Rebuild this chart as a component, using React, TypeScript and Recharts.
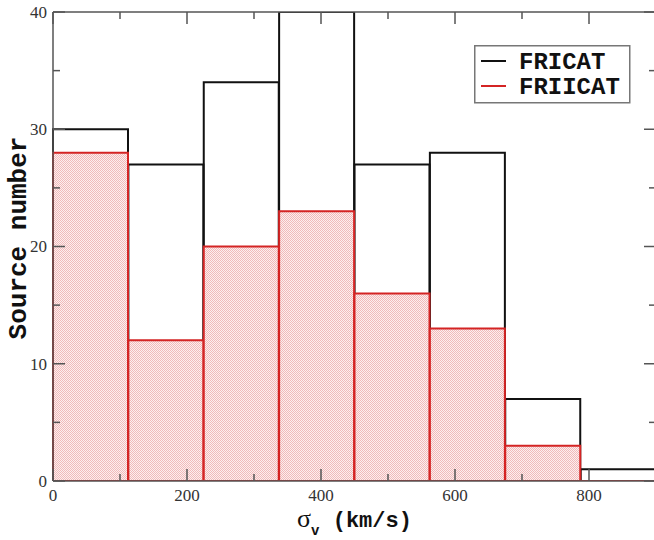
import { ComposedChart, Bar, XAxis, YAxis, Legend } from 'recharts';

// histogram bins of velocity dispersion (km/s), 8 bins of 112.5 km/s
const binStarts = [0, 112.5, 225, 337.5, 450, 562.5, 675, 787.5];
const binWidth = 112.5;
const fricatCounts = [30, 27, 34, 40, 27, 28, 7, 1];
const friicatCounts = [28, 12, 20, 23, 16, 13, 3, 0];

const xTicks = [0, 100, 200, 300, 400, 500, 600, 700, 800, 900];
const xLabelled = [0, 200, 400, 600, 800];
const yTicks = [0, 5, 10, 15, 20, 25, 30, 35, 40];
const yLabelled = [0, 10, 20, 30, 40];

const series = [
  { key: 'fricat', name: 'FRICAT', color: '#111111' },
  { key: 'friicat', name: 'FRIICAT', color: '#d42424' },
];

const data = binStarts.map((start, i) => ({
  bin: `${start}-${start + binWidth}`,
  center: start + binWidth / 2,
  fricat: fricatCounts[i],
  friicat: friicatCounts[i],
}));

const axisColor = '#555555';
const tickFont = 'Liberation Serif, serif';
const monoFont = 'Liberation Mono, monospace';

// outlined histogram box; drawn as a path so empty bins still show their base line
const HistBox = (props: any) => {
  const { x, y, width, height, stroke, fill } = props;
  const b = y + height;
  return (
    <path
      d={`M${x},${b} L${x},${y} L${x + width},${y} L${x + width},${b} Z`}
      stroke={stroke}
      strokeWidth={2}
      fill={fill}
    />
  );
};

const BottomTick = (props: any) => {
  const { x, y, payload } = props;
  const major = payload.value % 200 === 0;
  return (
    <g>
      <line x1={x} x2={x} y1={y} y2={y - (major ? 12 : 7)} stroke={axisColor} strokeWidth={1.5} />
      {xLabelled.includes(payload.value) && (
        <text x={x} y={y + 20} textAnchor="middle" fontFamily={tickFont} fontSize={17} fill="#333">
          {payload.value}
        </text>
      )}
    </g>
  );
};

const TopTick = (props: any) => {
  const { x, y, payload } = props;
  const major = payload.value % 200 === 0;
  return <line x1={x} x2={x} y1={y} y2={y + (major ? 12 : 7)} stroke={axisColor} strokeWidth={1.5} />;
};

const LeftTick = (props: any) => {
  const { x, y, payload } = props;
  const major = payload.value % 10 === 0;
  return (
    <g>
      <line x1={x} x2={x + (major ? 12 : 7)} y1={y} y2={y} stroke={axisColor} strokeWidth={1.5} />
      {yLabelled.includes(payload.value) && (
        <text x={x - 6} y={y} dy="0.35em" textAnchor="end" fontFamily={tickFont} fontSize={17} fill="#333">
          {payload.value}
        </text>
      )}
    </g>
  );
};

const RightTick = (props: any) => {
  const { x, y, payload } = props;
  const major = payload.value % 10 === 0;
  return <line x1={x} x2={x - (major ? 12 : 7)} y1={y} y2={y} stroke={axisColor} strokeWidth={1.5} />;
};

const XTitle = (props: any) => {
  const { viewBox } = props;
  const cx = viewBox.x + viewBox.width / 2;
  return (
    <text x={cx} y={527} textAnchor="middle" fill="#111">
      <tspan fontFamily={tickFont} fontSize={26}>σ</tspan>
      <tspan fontFamily={monoFont} fontWeight="bold" fontSize={14} dy={8}>v</tspan>
      <tspan fontFamily={monoFont} fontWeight="bold" fontSize={22} dy={-8}>{'  (km/s)'}</tspan>
    </text>
  );
};

const YTitle = () => (
  <text
    x={19}
    y={238}
    transform="rotate(-90 19 238)"
    textAnchor="middle"
    dominantBaseline="central"
    fontFamily={monoFont}
    fontWeight="bold"
    fontSize={26}
    fill="#111"
  >
    Source number
  </text>
);

const LegendBox = () => (
  <svg width={157} height={59} style={{ display: 'block' }}>
    <rect x={0.75} y={0.75} width={155} height={57} fill="#fff" stroke="#777" strokeWidth={1.5} />
    {series.map((s, i) => (
      <g key={s.key}>
        <line x1={7} x2={32} y1={16 + i * 25} y2={16 + i * 25} stroke={s.color} strokeWidth={2} />
        <text
          x={45}
          y={16 + i * 25}
          dy="0.35em"
          fontFamily={monoFont}
          fontWeight="bold"
          fontSize={24}
          fill="#111"
        >
          {s.name}
        </text>
      </g>
    ))}
  </svg>
);

export default function App() {
  return (
    <div style={{ position: 'absolute', left: 0, top: 0, width: 654, height: 540, overflow: 'hidden', background: '#fff' }}>
      <ComposedChart
        width={680}
        height={540}
        data={data}
        margin={{ top: 0, right: 0, bottom: 0, left: 0 }}
        barCategoryGap={0}
        barGap={0}
      >
        <defs>
          <pattern id="redDots" width={2} height={2} patternUnits="userSpaceOnUse">
            <rect width={2} height={2} fill="#fdeeee" />
            <rect width={1} height={1} fill="#f0baba" />
            <rect x={1} y={1} width={1} height={1} fill="#f0baba" />
          </pattern>
        </defs>
        <XAxis xAxisId="binsA" dataKey="bin" type="category" height={0} hide />
        <XAxis xAxisId="binsB" dataKey="bin" type="category" height={0} hide />
        <Bar
          xAxisId="binsA"
          dataKey="fricat"
          name="FRICAT"
          stroke={series[0].color}
          fill="none"
          shape={<HistBox />}
          isAnimationActive={false}
        />
        <Bar
          xAxisId="binsB"
          dataKey="friicat"
          name="FRIICAT"
          stroke={series[1].color}
          fill="url(#redDots)"
          shape={<HistBox />}
          isAnimationActive={false}
        />
        <XAxis
          xAxisId="sigma"
          dataKey="center"
          type="number"
          domain={[0, 900]}
          allowDataOverflow
          ticks={xTicks}
          interval={0}
          height={59}
          tickSize={0}
          tickMargin={0}
          tickLine={false}
          tick={<BottomTick />}
          axisLine={{ stroke: axisColor, strokeWidth: 1.5 }}
          label={{ content: <XTitle /> }}
        />
        <XAxis
          xAxisId="top"
          dataKey="center"
          orientation="top"
          type="number"
          domain={[0, 900]}
          allowDataOverflow
          ticks={xTicks}
          interval={0}
          height={12}
          tickSize={0}
          tickMargin={0}
          tickLine={false}
          tick={<TopTick />}
          axisLine={{ stroke: axisColor, strokeWidth: 1.5 }}
        />
        <YAxis
          type="number"
          domain={[0, 40]}
          allowDataOverflow
          ticks={yTicks}
          interval={0}
          width={53}
          tickSize={0}
          tickMargin={0}
          tickLine={false}
          tick={<LeftTick />}
          axisLine={{ stroke: axisColor, strokeWidth: 1.5 }}
          label={{ content: <YTitle /> }}
        />
        <YAxis
          yAxisId="right"
          dataKey="fricat"
          orientation="right"
          type="number"
          domain={[0, 40]}
          allowDataOverflow
          ticks={yTicks}
          interval={0}
          width={24}
          tickSize={0}
          tickMargin={0}
          tickLine={false}
          tick={<RightTick />}
          axisLine={{ stroke: axisColor, strokeWidth: 1.5 }}
        />
        <Legend
          layout="vertical"
          align="center"
          verticalAlign="middle"
          content={<LegendBox />}
          wrapperStyle={{ position: 'absolute', left: 474, top: 45, width: 157, height: 59 }}
        />
      </ComposedChart>
    </div>
  );
}
